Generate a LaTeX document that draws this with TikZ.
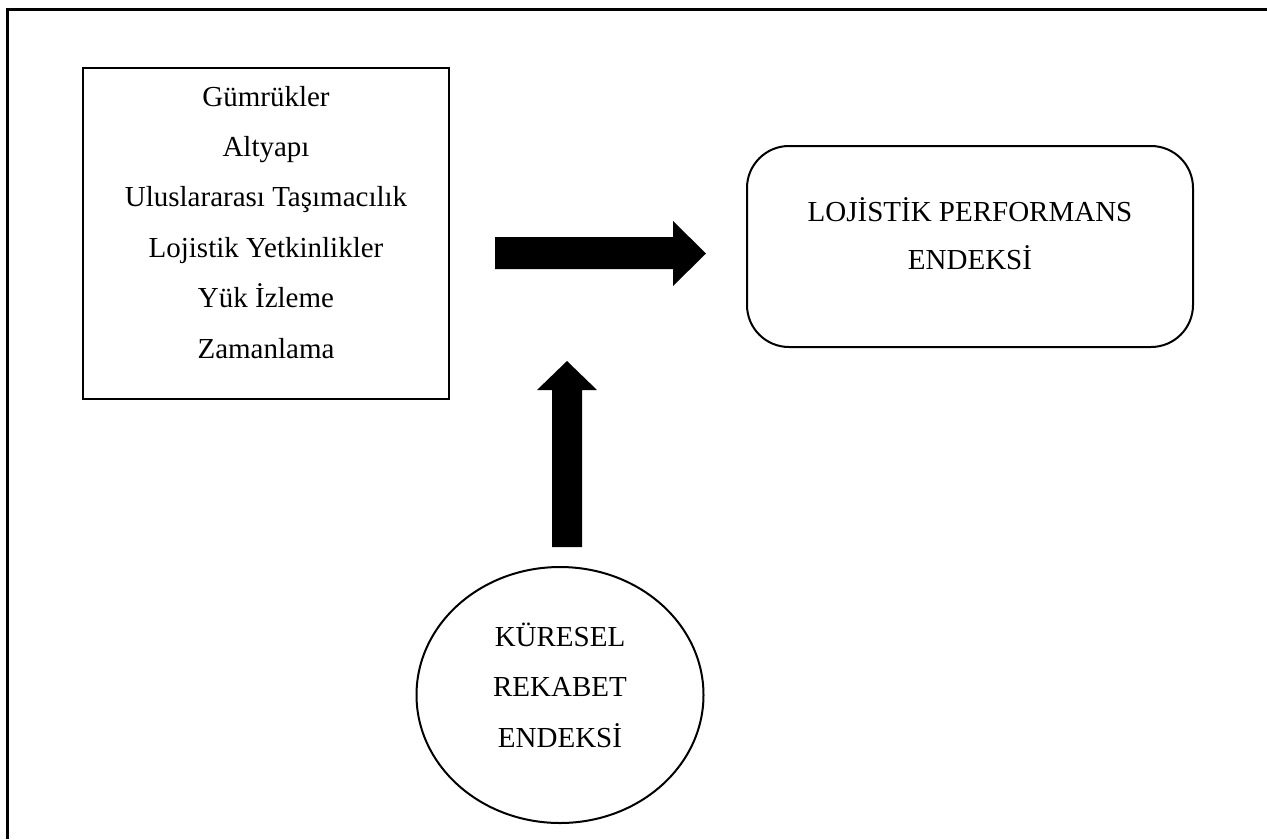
\documentclass[tikz,border=0pt]{standalone}
\usepackage{fontspec}
\setmainfont{Liberation Serif}
\usetikzlibrary{shapes.geometric}
\begin{document}
\begin{tikzpicture}[x=1pt,y=-1pt,
  txt/.style={font=\fontsize{29}{50.4}\selectfont, align=center, inner sep=0pt, anchor=base},
  boxline/.style={draw=black, line width=2pt},
  blockarrow/.style={fill=black, draw=none}]
\useasboundingbox (0,0) rectangle (1267,839);
% outer frame (top and left only)
\draw[line width=3pt] (1267,9) -- (7,9) -- (7,839);
% left box
\draw[boxline] (83,68) rectangle (449,399);
\node[txt] (factors) at (266,358)
  {Gümrükler\\Altyapı\\Uluslararası Taşımacılık\\Lojistik Yetkinlikler\\Yük İzleme\\Zamanlama};
% rounded box
\node[boxline, rounded corners=42pt, minimum width=446pt, minimum height=201pt, inner sep=0pt] (lpi) at (970,246.5) {};
\node[txt, font=\fontsize{29}{48.5}\selectfont] (lpitext) at (970,269.5) {LOJİSTİK PERFORMANS\\ENDEKSİ};
% ellipse
\node[ellipse, boxline, minimum width=287pt, minimum height=256pt, inner sep=0pt] (gci) at (560,695) {};
\node[txt] (gcitext) at (560,747) {KÜRESEL\\REKABET\\ENDEKSİ};
% right block arrow
\fill[blockarrow] (495,237) -- (673,237) -- (673,221) -- (706,253.5) -- (673,286) -- (673,269) -- (495,269) -- cycle;
% up block arrow
\fill[blockarrow] (552,547) -- (552,390) -- (537,390) -- (567,361) -- (597,390) -- (582,390) -- (582,547) -- cycle;
\end{tikzpicture}
\end{document}
